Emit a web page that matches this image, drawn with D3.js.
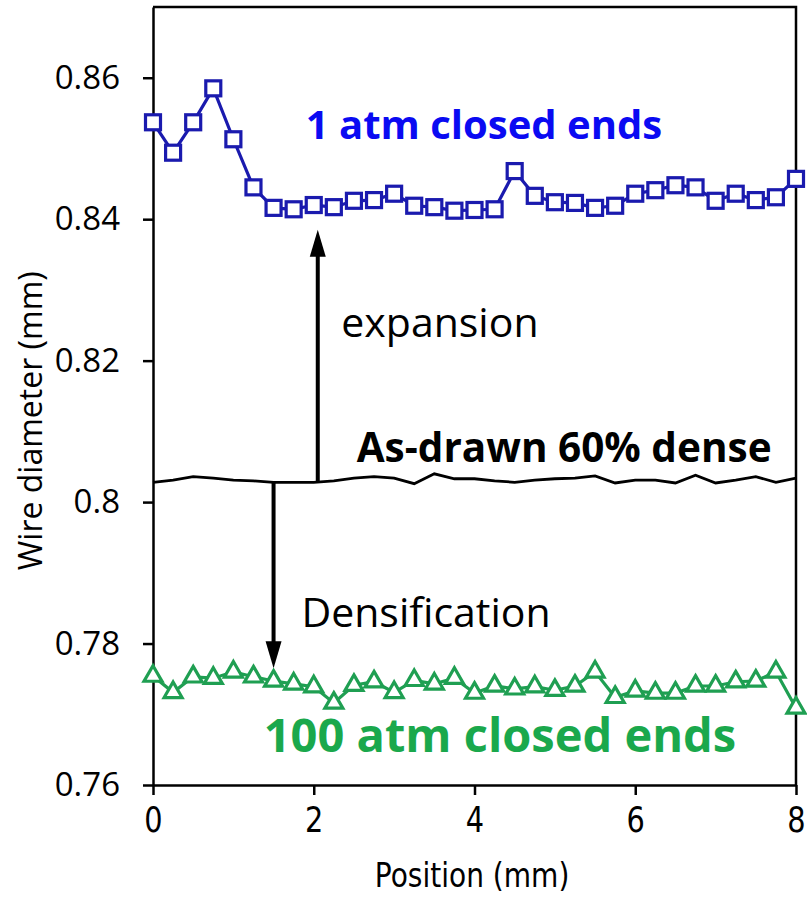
<!DOCTYPE html>
<html>
<head>
<meta charset="utf-8">
<script src="https://cdn.jsdelivr.net/npm/d3@7"></script>
<style>
  body { margin: 0; background: #fff; }
  .tick text { fill: #000; }
</style>
</head>
<body>
<div id="chart"></div>
<script>
// ---- data ----
var position = [0, 0.25, 0.5, 0.75, 1, 1.25, 1.5, 1.75, 2, 2.25, 2.5, 2.75, 3, 3.25, 3.5, 3.75,
  4, 4.25, 4.5, 4.75, 5, 5.25, 5.5, 5.75, 6, 6.25, 6.5, 6.75, 7, 7.25, 7.5, 7.75, 8];

// 1 atm closed ends (blue squares)
var oneAtm = [0.8537, 0.8494, 0.8537, 0.8585, 0.8513, 0.8445, 0.8416, 0.8414, 0.8420, 0.8417,
  0.8426, 0.8427, 0.8436, 0.8419, 0.8417, 0.8412, 0.8413, 0.8414, 0.8468, 0.8433, 0.8424,
  0.8423, 0.8416, 0.8419, 0.8436, 0.8441, 0.8448, 0.8445, 0.8426, 0.8436, 0.8427, 0.8431, 0.8457];

// as-drawn wire (black line)
var asDrawn = [0.8028, 0.8031, 0.8036, 0.8034, 0.8031, 0.8030, 0.8028, 0.8028, 0.8028, 0.8030,
  0.8034, 0.8036, 0.8034, 0.8026, 0.8040, 0.8033, 0.8033, 0.8030, 0.8028, 0.8031, 0.8033,
  0.8034, 0.8037, 0.8027, 0.8031, 0.8031, 0.8027, 0.8038, 0.8027, 0.8031, 0.8036, 0.8028, 0.8034];

// 100 atm closed ends (green triangles)
var hundredAtm = [0.7754, 0.7731, 0.7753, 0.7751, 0.7760, 0.7753, 0.7747, 0.7743, 0.7739, 0.7716,
  0.7741, 0.7746, 0.7731, 0.7748, 0.7743, 0.7751, 0.7730, 0.7740, 0.7736, 0.7739, 0.7734,
  0.7740, 0.7760, 0.7724, 0.7733, 0.7730, 0.7730, 0.7740, 0.7740, 0.7746, 0.7747, 0.7760, 0.7709];

var xTicks = [0, 2, 4, 6, 8];
var yTicks = [0.76, 0.78, 0.8, 0.82, 0.84, 0.86];
var yTickLabels = ["0.76", "0.78", "0.8", "0.82", "0.84", "0.86"];

// arrows: [x, from, to]
var arrowUp = [2.05, 0.8028, 0.8385];
var arrowDown = [1.5, 0.8028, 0.7765];

// ---- layout ----
var svgWidth = 807;
var svgHeight = 899;
var margin = { top: 7, right: 11, bottom: 114, left: 153 };
var width = svgWidth - margin.left - margin.right;
var height = svgHeight - margin.top - margin.bottom;

var svg = d3.select("#chart")
  .append("svg")
  .attr("width", svgWidth)
  .attr("height", svgHeight)
  .style("background", "#fff");

var chart = svg.append("g")
  .attr("transform", `translate(${margin.left}, ${margin.top})`);

var x = d3.scaleLinear().domain([0, 8]).range([0, width]);
var y = d3.scaleLinear().domain([0.76, 0.87]).range([height, 0]);

var blue = "#1a1aae";
var green = "#1f9f52";

// frame (top + right)
chart.append("path")
  .attr("d", `M0,0H${width}V${height}`)
  .attr("fill", "none")
  .attr("stroke", "#000")
  .attr("stroke-width", 2.5);

// axes
var xAxis = chart.append("g")
  .attr("transform", `translate(0, ${height})`)
  .call(d3.axisBottom(x).tickValues(xTicks).tickSize(10).tickPadding(11).tickSizeOuter(0));
xAxis.selectAll("text")
  .style("font-family", "'DejaVu Sans'")
  .style("font-size", "36px")
  .attr("transform", "scale(0.8,1)");

var yAxis = chart.append("g")
  .call(d3.axisLeft(y).tickValues(yTicks).tickFormat((d, i) => yTickLabels[i])
    .tickSize(10).tickPadding(23).tickSizeOuter(0));
yAxis.selectAll("text")
  .style("font-family", "'Open Sans'")
  .style("font-size", "33px");

[xAxis, yAxis].forEach(function(a) {
  a.select(".domain").attr("stroke-width", 2.5);
  a.selectAll(".tick line").attr("stroke-width", 2.5);
});

// axis titles
svg.append("text")
  .attr("transform", `translate(42, ${margin.top + y(0.8115)}) rotate(-90)`)
  .attr("text-anchor", "middle")
  .style("font-family", "'Open Sans'")
  .style("font-size", "32px")
  .text("Wire diameter (mm)");

svg.append("text")
  .attr("transform", `translate(${margin.left + x(3.97)}, 887) scale(0.85,1)`)
  .attr("text-anchor", "middle")
  .style("font-family", "'DejaVu Sans'")
  .style("font-size", "33px")
  .text("Position (mm)");

// as-drawn line
var line = d3.line().x((d, i) => x(position[i])).y(d => y(d));
chart.append("path")
  .datum(asDrawn)
  .attr("d", line)
  .attr("fill", "none")
  .attr("stroke", "#000")
  .attr("stroke-width", 2.8);

// arrows
function drawArrow(a) {
  var ax = x(a[0]), y0 = y(a[1]), y1 = y(a[2]);
  var dir = y1 < y0 ? 1 : -1;
  var headLen = 27, headHalf = 8;
  chart.append("line")
    .attr("x1", ax).attr("x2", ax)
    .attr("y1", y0).attr("y2", y1 + dir * (headLen - 2))
    .attr("stroke", "#000")
    .attr("stroke-width", 4);
  chart.append("path")
    .attr("d", `M${ax},${y1}L${ax - headHalf},${y1 + dir * headLen}L${ax + headHalf},${y1 + dir * headLen}Z`)
    .attr("fill", "#000");
}
drawArrow(arrowUp);
drawArrow(arrowDown);

// 1 atm series
chart.append("path")
  .datum(oneAtm)
  .attr("d", line)
  .attr("fill", "none")
  .attr("stroke", blue)
  .attr("stroke-width", 3.2);
chart.selectAll(".sq").data(oneAtm).enter()
  .append("rect")
  .attr("class", "sq")
  .attr("x", (d, i) => x(position[i]) - 7.5)
  .attr("y", d => y(d) - 7.5)
  .attr("width", 15)
  .attr("height", 15)
  .attr("fill", "#fff")
  .attr("stroke", blue)
  .attr("stroke-width", 3.2);

// 100 atm series
chart.append("path")
  .datum(hundredAtm)
  .attr("d", line)
  .attr("fill", "none")
  .attr("stroke", green)
  .attr("stroke-width", 3.2);
var tri = d3.symbol().type(d3.symbolTriangle).size(140);
chart.selectAll(".tri").data(hundredAtm).enter()
  .append("path")
  .attr("class", "tri")
  .attr("d", tri)
  .attr("transform", (d, i) => `translate(${x(position[i])}, ${y(d)})`)
  .attr("fill", "#fff")
  .attr("stroke", green)
  .attr("stroke-width", 3.2);

// annotations
var labels = [
  { text: "1 atm closed ends", px: 4.118, py: 0.8513, size: 40, weight: "bold", color: "#0a0af2" },
  { text: "expansion", px: 3.57, py: 0.8233, size: 41, weight: "normal", color: "#000" },
  { text: "As-drawn 60% dense", px: 5.115, py: 0.8057, size: 40.5, weight: "bold", color: "#000" },
  { text: "Densification", px: 3.397, py: 0.7823, size: 41, weight: "normal", color: "#000" },
  { text: "100 atm closed ends", px: 4.317, py: 0.7647, size: 47, weight: "bold", color: "#1aa84c" }
];
chart.selectAll(".ann").data(labels).enter()
  .append("text")
  .attr("class", "ann")
  .attr("x", d => x(d.px))
  .attr("y", d => y(d.py))
  .attr("text-anchor", "middle")
  .style("font-family", "'Open Sans'")
  .style("font-size", d => d.size + "px")
  .style("font-weight", d => d.weight)
  .attr("fill", d => d.color)
  .text(d => d.text);
</script>
</body>
</html>
